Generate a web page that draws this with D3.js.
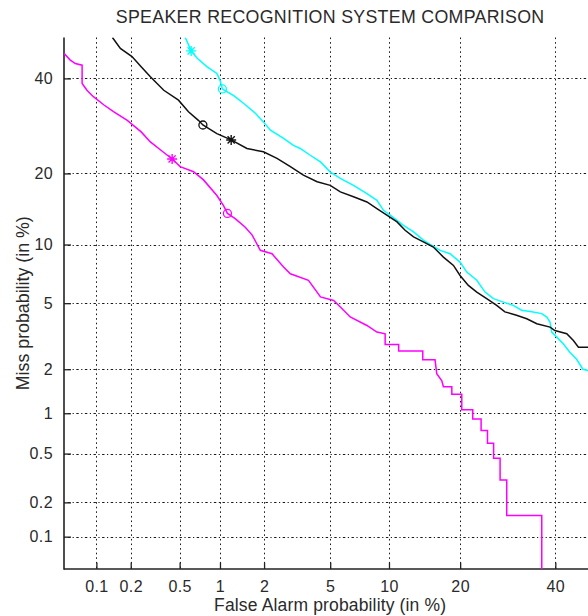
<!DOCTYPE html>
<html>
<head>
<meta charset="utf-8">
<script src="https://cdn.jsdelivr.net/npm/d3@7"></script>
<style>
html,body{margin:0;padding:0;background:#fff;}
svg{display:block;}
text{font-family:"Liberation Sans", Arial, Helvetica, sans-serif;fill:#2a2a2a;}
</style>
</head>
<body>
<div id="chart"></div>
<script>
// ---- data (percent) ----
const title = "SPEAKER RECOGNITION SYSTEM COMPARISON";
const xLabel = "False Alarm probability (in %)";
const yLabel = "Miss probability (in %)";
const xTicks = [0.1, 0.2, 0.5, 1, 2, 5, 10, 20, 40];
const xTickLabels = ["0.1", "0.2", "0.5", "1", "2", "5", "10", "20", "40"];
const yTicks = [0.1, 0.2, 0.5, 1, 2, 5, 10, 20, 40];
const yTickLabels = ["0.1", "0.2", "0.5", "1", "2", "5", "10", "20", "40"];
const axisLimits = [0.05, 50];

// [false alarm %, miss %]
const blackSeries = [
  [0.139,50],[0.163,47.3],[0.205,45.3],[0.245,42.8],[0.292,40.4],[0.375,37.2],[0.49,34.9],
  [0.585,32.3],[0.695,30.4],[0.751,29.4],[0.95,27.6],[1.2,26.3],[1.54,24.6],[1.98,23.96],
  [2.42,22.7],[2.93,21.2],[3.51,19.7],[4.22,18.6],[5.0,18.0],[5.68,16.96],[6.67,16.2],
  [7.81,15.43],[8.75,14.47],[9.77,13.56],[10.9,12.68],[11.86,11.64],[12.93,10.86],
  [14.25,10.28],[15.69,9.73],[17.23,8.7],[18.86,7.91],[19.98,7.03],[21.45,6.24],[23.0,5.75],
  [24.9,5.3],[26.9,4.86],[28.6,4.47],[31.1,4.28],[33.36,4.08],[35.65,3.82],[38.75,3.65],
  [39.9,3.48],[42.76,3.33],[44.37,3.03],[45.6,2.76],[50,2.76]
];
const cyanSeries = [
  [0.553,50],[0.613,46.7],[0.681,44.9],[0.807,42.8],[0.95,41.2],[1.0,39.6],[1.04,37.5],
  [1.25,35.95],[1.46,34.2],[1.76,31.9],[1.98,30.07],[2.2,28.3],[2.66,26.6],[3.06,25.2],
  [3.36,24.6],[3.85,23.3],[4.41,22.05],[4.99,20.27],[5.68,19.14],[6.67,18.0],[7.81,16.7],
  [8.75,15.68],[9.42,14.23],[10.13,13.56],[11.66,12.25],[12.93,11.44],[14.25,10.48],
  [15.46,9.9],[16.72,9.38],[18.3,9.03],[19.98,8.22],[21.17,7.32],[23.0,6.64],[24.58,5.75],
  [26.24,5.3],[28.27,5.07],[30.4,4.86],[32.2,4.57],[34.5,4.47],[36.8,4.37],[37.98,4.17],
  [38.75,3.9],[39.15,3.41],[40.35,3.18],[41.95,2.89],[43.5,2.57],[45.2,2.31],[46.7,2.0],
  [48,1.96],[50,1.93]
];
const magentaSeries = [
  [0.05,46.1],[0.057,44.5],[0.064,43.6],[0.074,43.2],[0.074,38.8],[0.082,37.2],[0.094,35.7],
  [0.117,33.8],[0.142,32.3],[0.187,30.4],[0.245,27.95],[0.292,25.9],[0.354,24.3],[0.437,22.6],
  [0.505,21.2],[0.639,20.3],[0.759,18.9],[0.95,16.4],[1.06,14.9],[1.13,13.8],[1.28,13.1],
  [1.5,12.0],[1.67,11.06],[1.89,9.38],[2.25,9.03],[2.66,7.76],[2.93,7.18],[3.76,6.64],
  [4.41,5.41],[5.22,5.18],[5.68,4.76],[6.41,4.18],[7.81,3.73],[8.75,3.41],[9.59,3.33],
  [9.59,2.87],[11.09,2.87],[11.09,2.61],[14.17,2.61],[14.17,2.3],[15.94,2.3],[16.2,1.87],
  [16.98,1.68],[17.23,1.53],[18.59,1.53],[18.59,1.36],[20.28,1.36],[20.28,1.06],[22.25,1.06],
  [22.25,0.91],[23.82,0.91],[23.82,0.75],[25.06,0.75],[25.06,0.6],[26.28,0.6],[26.28,0.46],
  [27.6,0.46],[27.6,0.307],[28.99,0.307],[28.99,0.154],[36.8,0.154],[36.8,0.045]
];
// markers: [false alarm %, miss %]
const blackStar = [1.2, 26.3], blackCircle = [0.751, 29.4];
const cyanStar = [0.613, 46.7], cyanCircle = [1.04, 37.5];
const magentaStar = [0.437, 22.6], magentaCircle = [1.13, 13.8];

(function(){
// ---- helpers ----
function probit(p){
  const a=[-3.969683028665376e+01,2.209460984245205e+02,-2.759285104469687e+02,1.383577518672690e+02,-3.066479806614716e+01,2.506628277459239e+00];
  const b=[-5.447609879822406e+01,1.615858368580409e+02,-1.556989798598866e+02,6.680131188771972e+01,-1.328068155288572e+01];
  const c=[-7.784894002430293e-03,-3.223964580411365e-01,-2.400758277161838e+00,-2.549732539343734e+00,4.374664141464968e+00,2.938163982698783e+00];
  const d=[7.784695709041462e-03,3.224671290700398e-01,2.445134137142996e+00,3.754408661907416e+00];
  const plow=0.02425, phigh=1-plow;
  if(p<plow){const q=Math.sqrt(-2*Math.log(p));return (((((c[0]*q+c[1])*q+c[2])*q+c[3])*q+c[4])*q+c[5])/((((d[0]*q+d[1])*q+d[2])*q+d[3])*q+1);}
  if(p<=phigh){const q=p-0.5,r=q*q;return (((((a[0]*r+a[1])*r+a[2])*r+a[3])*r+a[4])*r+a[5])*q/(((((b[0]*r+b[1])*r+b[2])*r+b[3])*r+b[4])*r+1);}
  const q=Math.sqrt(-2*Math.log(1-p));return -(((((c[0]*q+c[1])*q+c[2])*q+c[3])*q+c[4])*q+c[5])/((((d[0]*q+d[1])*q+d[2])*q+d[3])*q+1);
}
const z = pct => probit(pct/100);

// ---- layout ----
const W = 588, H = 616;
const pL = 64, pR = 596.3, pT = 37.5, pB = 569;

const svg = d3.select("#chart").append("svg").attr("width", W).attr("height", H);

const x = d3.scaleLinear().domain([z(axisLimits[0]), z(axisLimits[1])]).range([pL, pR]);
const y = d3.scaleLinear().domain([z(axisLimits[0]), z(axisLimits[1])]).range([pB, pT]);

svg.append("defs").append("clipPath").attr("id","plotclip")
  .append("rect").attr("x", pL).attr("y", pT).attr("width", pR-pL).attr("height", pB-pT);

// grid
const grid = svg.append("g").attr("stroke","#1a1a1a").attr("stroke-width",1).attr("fill","none");
grid.selectAll("line.v").data(xTicks).join("line").attr("class","v")
  .attr("stroke-dasharray","1.6,3")
  .attr("x1", d=>Math.round(x(z(d)))+0.5).attr("x2", d=>Math.round(x(z(d)))+0.5)
  .attr("y1", pT).attr("y2", pB);
grid.selectAll("line.h").data(yTicks).join("line").attr("class","h")
  .attr("stroke-dasharray","1.2,2.5,2.4,2.5")
  .attr("y1", d=>Math.round(y(z(d)))+0.5).attr("y2", d=>Math.round(y(z(d)))+0.5)
  .attr("x1", pL).attr("x2", W);

// axes
const xAxis = d3.axisBottom(x).tickValues(xTicks.map(z)).tickFormat((d,i)=>xTickLabels[i]).tickSizeInner(-6.5).tickSizeOuter(0).tickPadding(12);
const yAxis = d3.axisLeft(y).tickValues(yTicks.map(z)).tickFormat((d,i)=>yTickLabels[i]).tickSizeInner(-7).tickSizeOuter(0).tickPadding(11);

const gx = svg.append("g").attr("transform", `translate(0,${pB})`).call(xAxis);
const gy = svg.append("g").attr("transform", `translate(${pL},0)`).call(yAxis);
[gx, gy].forEach(g=>{
  g.select(".domain").remove();
  g.selectAll(".tick line").attr("stroke","#222").attr("stroke-width",1.3);
  g.selectAll(".tick text").attr("font-size",16).attr("fill","#2a2a2a").attr("letter-spacing",0.4)
    .attr("font-family",'"Liberation Sans", Arial, sans-serif');
});
gx.selectAll(".tick text").attr("dy","0.71em");
// axis lines (left and bottom only)
svg.append("line").attr("x1",pL).attr("x2",pL).attr("y1",pT).attr("y2",pB+0.75).attr("stroke","#222").attr("stroke-width",1.6);
svg.append("line").attr("x1",pL).attr("x2",W).attr("y1",pB).attr("y2",pB).attr("stroke","#222").attr("stroke-width",1.6);

// curves
const line = d3.line().x(d=>x(z(d[0]))).y(d=>y(z(d[1])));
const plot = svg.append("g").attr("clip-path","url(#plotclip)");
const series = [
  {data: magentaSeries, color:"#ff00ff", star: magentaStar, circle: magentaCircle},
  {data: cyanSeries, color:"#00ffff", star: cyanStar, circle: cyanCircle},
  {data: blackSeries, color:"#111111", star: blackStar, circle: blackCircle}
];
series.forEach(s=>{
  plot.append("path").datum(s.data).attr("d", line)
    .attr("fill","none").attr("stroke", s.color).attr("stroke-width",1.5).attr("stroke-linejoin","miter");
});
series.forEach(s=>{
  const sx = x(z(s.star[0])), sy = y(z(s.star[1]));
  const r = 5;
  const rr = r*0.72;
  plot.append("path")
    .attr("d", `M${sx-r},${sy}L${sx+r},${sy}M${sx},${sy-r}L${sx},${sy+r}M${sx-rr},${sy-rr}L${sx+rr},${sy+rr}M${sx-rr},${sy+rr}L${sx+rr},${sy-rr}`)
    .attr("stroke", s.color).attr("stroke-width",1.4).attr("fill","none");
  plot.append("circle").attr("cx", x(z(s.circle[0]))).attr("cy", y(z(s.circle[1]))).attr("r",4)
    .attr("fill","none").attr("stroke", s.color).attr("stroke-width",1.3);
});

// titles
svg.append("text").attr("x", (pL+pR)/2).attr("y", 23).attr("text-anchor","middle")
  .attr("font-size",17.8).attr("letter-spacing",0.3).text(title);
svg.append("text").attr("x", (pL+pR)/2).attr("y", 611).attr("text-anchor","middle")
  .attr("font-size",17.5).attr("letter-spacing",0.15).text(xLabel);
svg.append("text").attr("transform", `translate(28.5,${(pT+pB)/2}) rotate(-90)`).attr("text-anchor","middle")
  .attr("font-size",17.8).text(yLabel);
})();
</script>
</body>
</html>
